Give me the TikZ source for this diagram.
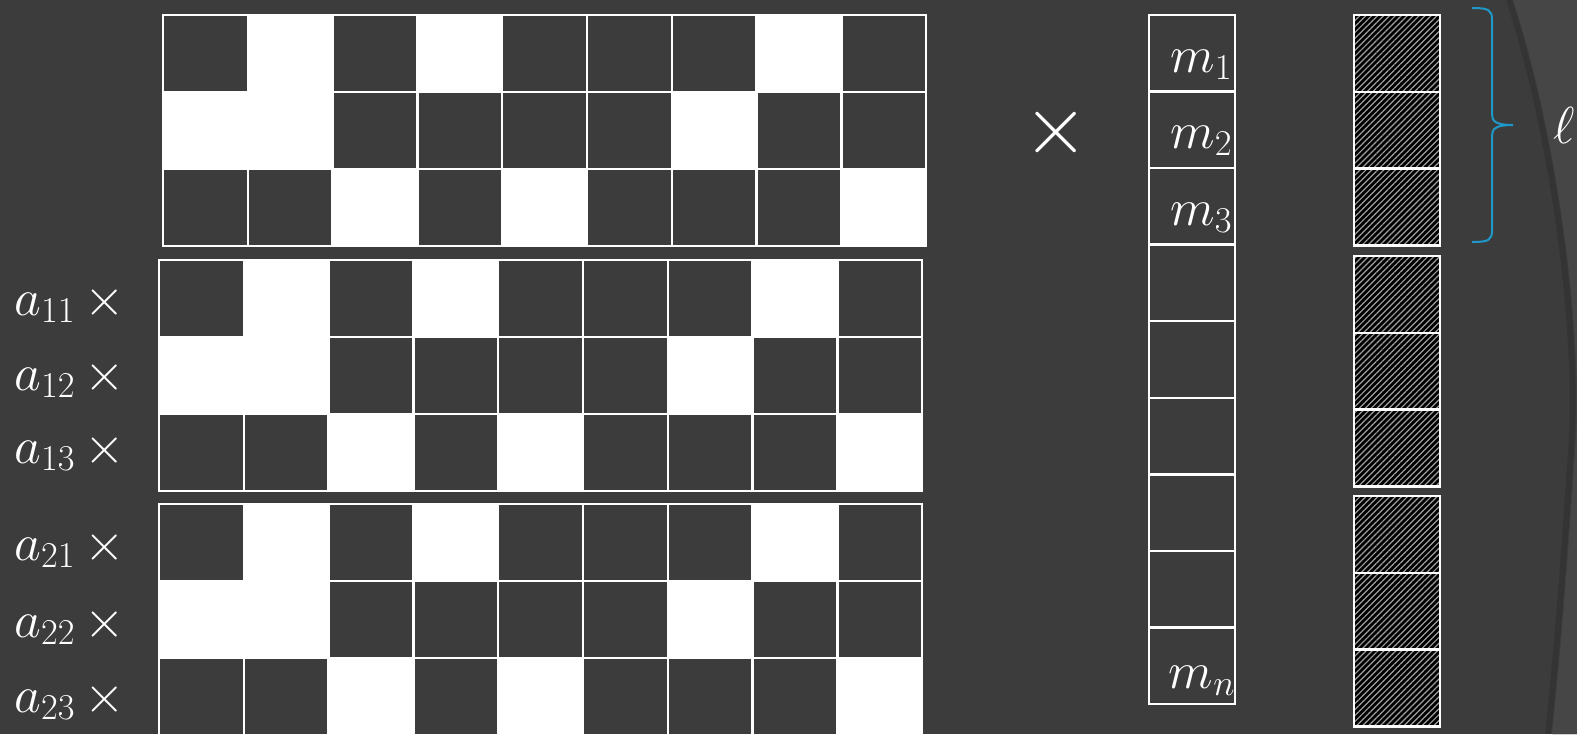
\RequirePackage{fix-cm}
\documentclass[tikz,border=0pt]{standalone}
\usepackage{amsmath}
\usepackage{tikz}
\usetikzlibrary{positioning,patterns.meta}
\definecolor{bgcol}{RGB}{60,60,60}
\definecolor{edgecol}{RGB}{70,70,70}
\definecolor{bracecol}{RGB}{30,152,200}
\definecolor{hatchcol}{RGB}{160,160,160}

\begin{document}
\begin{tikzpicture}[
  x=0.5pt, y=-0.5pt,
  cell/.style={draw=white, line width=1.2pt},
  vcell/.style={draw=white, line width=1.2pt, fill=bgcol},
  hcell/.style={draw=white, line width=1.3pt, preaction={fill=black},
                pattern={Lines[angle=45,distance=2.1pt,line width=0.6pt]},
                pattern color=hatchcol},
  lbl/.style={text=white, font=\fontsize{26}{30}\selectfont, inner sep=0pt},
  brc/.style={draw=bracecol, line width=1pt}
]

%% Background and slide edge
\fill[bgcol] (0,0) rectangle (1577,734);
\useasboundingbox (0,0) rectangle (1577,734);
\fill[edgecol] (1513,0) .. controls (1556,130) and (1584,330) .. (1575,450)
  .. controls (1568,560) and (1560,660) .. (1552,734)
  -- (1577,734) -- (1577,0) -- cycle;
\draw[black, opacity=0.12, line width=3pt] (1509,0) .. controls (1552,130)
  and (1580,330) .. (1571,450) .. controls (1564,560) and (1556,660) .. (1548,734);
\fill[edgecol] (1553,734) -- (1577,716) -- (1577,734) -- cycle;

%% Three binary matrices
\foreach \mx/\my in {163/15, 159/260, 159/504} {
  \begin{scope}[shift={(\mx,\my)}]
    \foreach \pat [count=\r] in {{1,0,1,0,1,1,1,0,1},
                                 {0,0,1,1,1,1,0,1,1},
                                 {1,1,0,1,0,1,1,1,0}} {
      \foreach \v [count=\c] in \pat {
        \ifnum\v=1 \def\cc{bgcol}\else\def\cc{white}\fi
        \draw[cell, fill=\cc] ({(\c-1)*84.8},{(\r-1)*77}) rectangle ++(84.8,77);
      }
    }
  \end{scope}
}

%% Coefficient labels
\foreach \i/\j/\yb in {1/1/315, 1/2/390, 1/3/463, 2/1/560, 2/2/637, 2/3/712}
  \node[lbl, anchor=base east] (a\i\j) at (125,\yb) {$a_{\i\j}\,\times$};

%% Big times sign
\node[text=white, font=\fontsize{42}{46}\selectfont, inner sep=0pt]
  (times) at (1056,132) {$\times$};

%% Message vector
\foreach \k in {0,...,8}
  \draw[vcell] (1149,{15+\k*76.55}) rectangle ++(86,76.55);
\node[lbl, anchor=base east] (m1) at (1233,72)  {$m_1$};
\node[lbl, anchor=base east] (m2) at (1233,148) {$m_2$};
\node[lbl, anchor=base east] (m3) at (1233,225) {$m_3$};
\node[lbl, anchor=base east] (mn) at (1236,688) {$m_n$};

%% Hatched output blocks
\foreach \gy in {15,256,496} {
  \foreach \k in {0,1,2}
    \draw[hcell] (1354,{\gy+\k*76.8}) rectangle ++(86,76.8);
}

%% Brace with block length
\coordinate (brTop) at (1472,8);
\coordinate (brBot) at (1472,242);
\coordinate (brTip) at (1513,125);
\draw[brc] (brTop) .. controls (1489,8) and (1492,10) .. (1492,20)
  -- (1492,114) .. controls (1492,121) and (1495,125) .. (brTip)
  .. controls (1495,125) and (1492,129) .. (1492,136)
  -- (1492,230) .. controls (1492,240) and (1489,242) .. (brBot);
\node[lbl, right=20pt of brTip] (ell) {$\ell$};

\end{tikzpicture}
\end{document}
